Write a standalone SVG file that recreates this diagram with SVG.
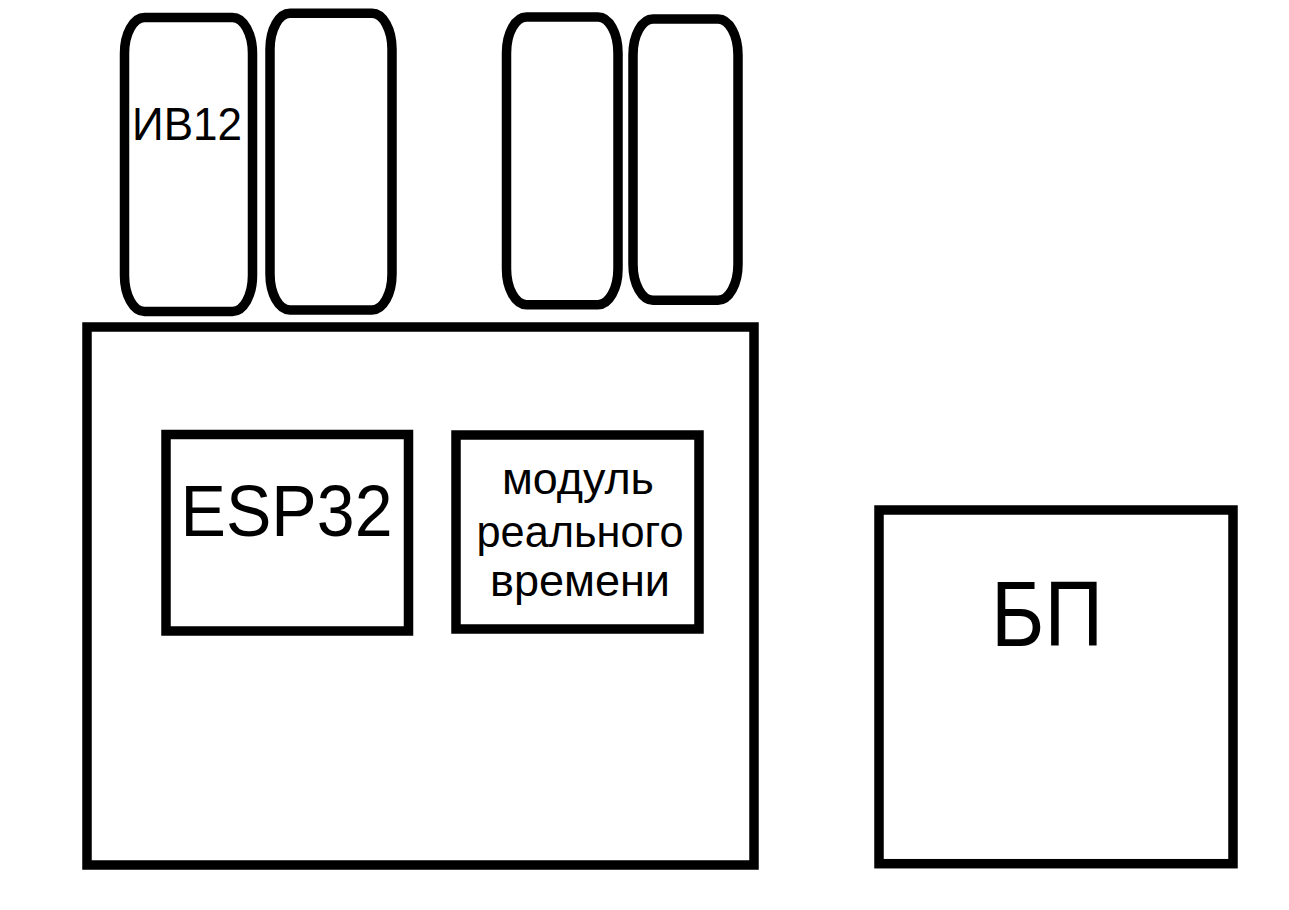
<svg xmlns="http://www.w3.org/2000/svg" width="1289" height="910" viewBox="0 0 1289 910">
<style>
.box{fill:#fff;stroke:#000;stroke-width:9.5}
.tube{fill:#fff;stroke:#000;stroke-width:9.5}
.lbl{font-family:"Liberation Sans",Arial,sans-serif;fill:#000;text-anchor:middle}
</style>
<rect width="1289" height="910" fill="#fff"/>
<g id="board"><rect class="box" x="87" y="327" width="667" height="538"/></g>
<g id="tube1"><rect class="tube" x="124.5" y="17.5" width="128" height="294" rx="20" ry="36"/>
<text class="lbl" x="187" y="140" font-size="46" textLength="110" lengthAdjust="spacingAndGlyphs">ИВ12</text></g>
<g id="tube2"><rect class="tube" x="270" y="13.3" width="122" height="296.7" rx="20" ry="36"/></g>
<g id="tube3"><rect class="tube" x="506.5" y="17" width="111.5" height="287.7" rx="20" ry="36"/></g>
<g id="tube4"><rect class="tube" x="633" y="19" width="105" height="281.3" rx="20" ry="36"/></g>
<g id="esp32"><rect class="box" x="166" y="434.5" width="242.5" height="196.5"/>
<text class="lbl" x="286.5" y="536" font-size="72" textLength="212" lengthAdjust="spacingAndGlyphs">ESP32</text></g>
<g id="rtc"><rect class="box" x="456" y="435" width="243" height="194"/>
<text class="lbl" x="578" y="494" font-size="44" textLength="152" lengthAdjust="spacingAndGlyphs">модуль</text>
<text class="lbl" x="580" y="547" font-size="44" textLength="207" lengthAdjust="spacingAndGlyphs">реального</text>
<text class="lbl" x="580" y="596" font-size="44" textLength="180" lengthAdjust="spacingAndGlyphs">времени</text></g>
<g id="psu"><rect class="box" x="879" y="510" width="354" height="353.7"/>
<text class="lbl" x="1047" y="646" font-size="92" textLength="112" lengthAdjust="spacingAndGlyphs">БП</text></g>
<g id="connectors"></g>
</svg>
